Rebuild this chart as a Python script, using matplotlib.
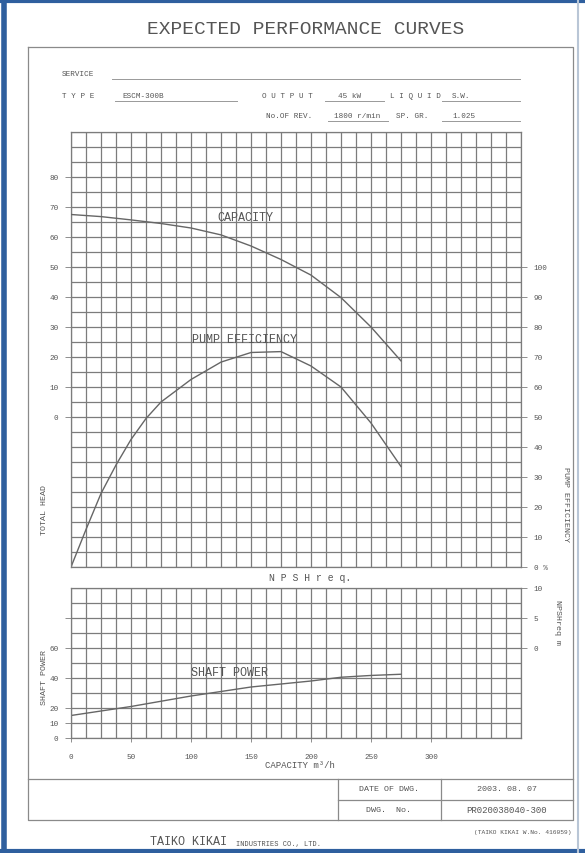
import matplotlib.pyplot as plt
from matplotlib.ticker import MultipleLocator

# 読み取った値 (capacity m3/h)
head_q = [0, 25, 50, 75, 100, 125, 150, 175, 200, 225, 250, 275]
head_m = [67.5, 66.8, 65.7, 64.5, 63.0, 60.7, 57.0, 52.5, 47.3, 39.8, 30.0, 18.7]

eff_q = [0, 12.5, 25, 37.5, 50, 62.5, 75, 100, 125, 150, 175, 200, 225, 250, 275]
eff_pct = [0, 12.5, 24.5, 34, 42.5, 49.5, 55, 62.5, 68.3, 71.5, 71.8, 67, 60, 48, 33.5]

power_q = [0, 25, 50, 75, 100, 125, 150, 175, 200, 225, 250, 275]
power_kw = [15, 18, 21, 24.5, 28, 31, 34, 36, 38, 40.5, 41.7, 42.5]

head_ticks = [0, 10, 20, 30, 40, 50, 60, 70, 80]
eff_ticks = [0, 10, 20, 30, 40, 50, 60, 70, 80, 90, 100]
eff_labels = ['0 %', '10', '20', '30', '40', '50', '60', '70', '80', '90', '100']
power_ticks = [0, 10, 20, 40, 60, 80]
power_labels = ['0', '10', '20', '40', '60', '']
npsh_ticks = [0, 5, 10]
cap_ticks = [0, 50, 100, 150, 200, 250, 300]

W, H = 585, 854
MONO = 'Liberation Mono'
INK = '#555555'
GRID = '#7c7c7c'
CURVE = '#666666'


def box(x0, y0, x1, y1):
    return [x0 / W, 1 - y1 / H, (x1 - x0) / W, (y1 - y0) / H]


def style_grid(ax, ystep):
    ax.xaxis.set_minor_locator(MultipleLocator(12.5))
    ax.yaxis.set_minor_locator(MultipleLocator(ystep))
    ax.set_xticks([])
    ax.tick_params(which='both', length=0, labelleft=False, labelbottom=False,
                   labelright=False, labeltop=False)
    for s in ax.spines.values():
        s.set_color(GRID)
        s.set_linewidth(0.9)


def side_ticks(ax, side, ticks, labels):
    ax.set_yticks(ticks)
    ax.set_yticklabels(labels, fontsize=5.5, color=INK, family=MONO)
    if side == 'left':
        ax.yaxis.tick_left()
        ax.tick_params(axis='y', which='major', labelleft=True, labelright=False)
    else:
        ax.yaxis.tick_right()
        ax.tick_params(axis='y', which='major', labelright=True, labelleft=False)
    ax.tick_params(axis='y', which='major', length=4, width=0.6, color=GRID, pad=5)
    ax.tick_params(axis='y', which='minor', length=0)


fig = plt.figure(figsize=(W / 100, H / 100), dpi=100)

# 枠と文字
bg = fig.add_axes([0, 0, 1, 1])
bg.set_xlim(0, W)
bg.set_ylim(H, 0)
bg.axis('off')
bg.plot([4, 4], [0, H], color='#2f5f9e', lw=4)
bg.plot([0, W], [2, 2], color='#2f5f9e', lw=3)
bg.plot([0, W], [852, 852], color='#2f5f9e', lw=3)
bg.plot([578, 578], [0, H], color='#b9c6d6', lw=1.5)

bg.plot([28, 573, 573, 28, 28], [48, 48, 821, 821, 48], color='#8a8a8a', lw=0.9)
bg.plot([28, 573], [780, 780], color='#8a8a8a', lw=0.9)
bg.plot([338, 573], [801, 801], color='#8a8a8a', lw=0.9)
bg.plot([338, 338], [780, 821], color='#8a8a8a', lw=0.9)
bg.plot([441, 441], [780, 821], color='#8a8a8a', lw=0.9)

bg.text(306, 29, 'EXPECTED PERFORMANCE CURVES', ha='center', va='center',
        fontsize=14, color=INK, family=MONO)

hdr = dict(fontsize=5.5, color=INK, family=MONO, va='bottom')
bg.text(62, 78, 'SERVICE', **hdr)
bg.plot([112, 520], [80, 80], color='#999999', lw=0.7)
bg.text(62, 100, 'T Y P E', **hdr)
bg.text(122, 100, 'ESCM-300B', **hdr)
bg.plot([115, 237], [102, 102], color='#999999', lw=0.7)
bg.text(262, 100, 'O U T P U T', **hdr)
bg.text(338, 100, '45 kW', **hdr)
bg.plot([325, 384], [102, 102], color='#999999', lw=0.7)
bg.text(390, 100, 'L I Q U I D', **hdr)
bg.text(452, 100, 'S.W.', **hdr)
bg.plot([442, 520], [102, 102], color='#999999', lw=0.7)
bg.text(266, 120, 'No.OF REV.', **hdr)
bg.text(334, 120, '1800 r/min', **hdr)
bg.plot([328, 388], [122, 122], color='#999999', lw=0.7)
bg.text(396, 120, 'SP. GR.', **hdr)
bg.text(452, 120, '1.025', **hdr)
bg.plot([442, 520], [122, 122], color='#999999', lw=0.7)

lbl = dict(fontsize=6, color=INK, family=MONO, ha='center', va='center')
bg.text(45, 510, 'TOTAL HEAD', rotation=90, **lbl)
bg.text(565, 505, 'PUMP EFFICIENCY', rotation=270, **lbl)
bg.text(45, 678, 'SHAFT POWER', rotation=90, **lbl)
bg.text(558, 623, 'NPSHreq m', rotation=270, **lbl)
bg.text(310, 578, 'N P S H r e q.', fontsize=7, color=INK, family=MONO,
        ha='center', va='center')
bg.text(300, 766, 'CAPACITY m³/h', fontsize=6.5, color=INK, family=MONO,
        ha='center', va='center')

bg.text(389, 790, 'DATE OF DWG.', **lbl)
bg.text(507, 790, '2003. 08. 07', **lbl)
bg.text(389, 811, 'DWG.  No.', **lbl)
bg.text(507, 811, 'PR020038040-300', fontsize=6.5, color=INK, family=MONO,
        ha='center', va='center')
bg.text(572, 833, '(TAIKO KIKAI W.No. 416059)', fontsize=4.5, color=INK,
        family=MONO, ha='right', va='center')
bg.text(150, 842, 'TAIKO KIKAI', fontsize=8.5, color=INK, family=MONO,
        ha='left', va='center')
bg.text(236, 845, 'INDUSTRIES CO., LTD.', fontsize=5, color=INK, family=MONO,
        ha='left', va='center')

# 上段: 揚程と効率
ax = fig.add_axes(box(71, 133, 521, 568))
ax.set_xlim(0, 375)
ax.set_ylim(0, 145)
style_grid(ax, 5)
axh = ax.twinx()
axh.set_ylim(-50, 95)
for s in axh.spines.values():
    s.set_visible(False)
side_ticks(ax, 'right', eff_ticks, eff_labels)
side_ticks(axh, 'left', head_ticks, [str(t) for t in head_ticks])
ax.grid(True, which='both', color=GRID, lw=0.9)
axh.grid(False)
ax.plot(eff_q, eff_pct, color=CURVE, lw=1.0)
axh.plot(head_q, head_m, color=CURVE, lw=1.0)

txt = dict(fontsize=8.5, color=INK, family=MONO, ha='center', va='center')
ax.text(145, 116.5, 'CAPACITY', **txt)
ax.text(145, 76, 'PUMP EFFICIENCY', **txt)

# 下段: 軸動力
axl = fig.add_axes(box(71, 589, 521, 739))
axl.set_xlim(0, 375)
axl.set_ylim(0, 100)
style_grid(axl, 10)
axn = axl.twinx()
axn.set_ylim(-15, 10)
for s in axn.spines.values():
    s.set_visible(False)
side_ticks(axl, 'left', power_ticks, power_labels)
side_ticks(axn, 'right', npsh_ticks, [str(t) for t in npsh_ticks])
axl.set_xticks(cap_ticks)
axl.set_xticklabels([str(t) for t in cap_ticks], fontsize=5.5, color=INK,
                    family=MONO)
axl.tick_params(axis='x', which='major', labelbottom=True, length=3,
                width=0.6, color=GRID, pad=8)
axl.grid(True, which='both', color=GRID, lw=0.9)
axn.grid(False)
axl.plot(power_q, power_kw, color=CURVE, lw=1.0)
axl.text(132, 44, 'SHAFT POWER', **txt)

fig.savefig('out.png', dpi=100)
